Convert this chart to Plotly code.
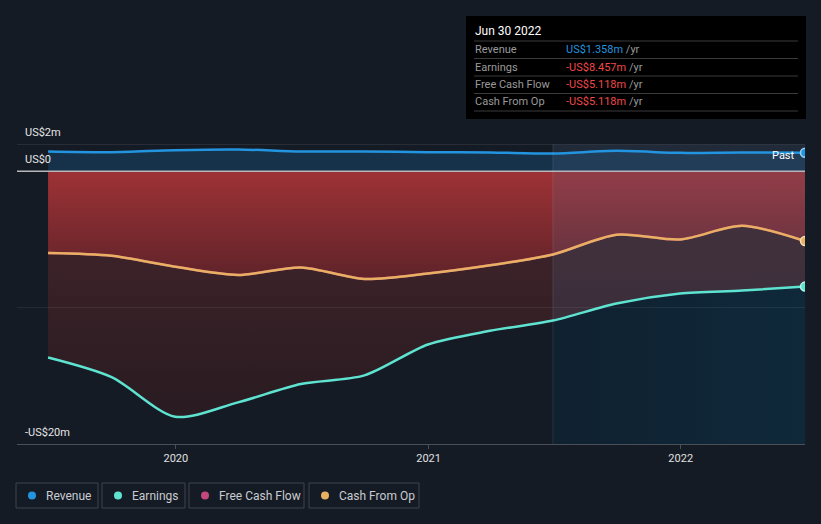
import plotly.graph_objects as go

# ---------------- data ----------------
dates = ["2019-06-30", "2019-09-30", "2019-12-31", "2020-03-31", "2020-06-30",
         "2020-09-30", "2020-12-31", "2021-03-31", "2021-06-30", "2021-09-30",
         "2021-12-31", "2022-03-31", "2022-06-30"]
revenue = [1.45, 1.40, 1.55, 1.60, 1.45, 1.45, 1.40, 1.38, 1.30, 1.50, 1.35, 1.38, 1.358]
earnings = [-13.66, -15.1, -18.0, -16.95, -15.6, -14.97, -12.7, -11.7, -10.95,
            -9.7, -8.97, -8.75, -8.457]
free_cash_flow = [-6.0, -6.2, -7.0, -7.6, -7.05, -7.9, -7.5, -6.9, -6.1,
                  -4.65, -5.0, -4.0, -5.118]
cash_from_op = [-6.0, -6.2, -7.0, -7.6, -7.05, -7.9, -7.5, -6.9, -6.1,
                -4.65, -5.0, -4.0, -5.118]
x_range = ["2019-05-16", "2022-06-30"]
y_range = [-20, 2]
y_ticks = [2, 0, -20]
y_tick_labels = ["US$2m", "US$0", "-US$20m"]
x_ticks = ["2020-01-01", "2021-01-01", "2022-01-01"]
x_tick_labels = ["2020", "2021", "2022"]
series_names = ["Revenue", "Earnings", "Free Cash Flow", "Cash From Op"]
tooltip_date = "Jun 30 2022"
past_start = 8  # index where the "past year" highlight begins

# ---------------- styles ----------------
BG = "#151b25"
C_REV = "#2394df"
C_EARN = "#5fe3d1"
C_FCF = "#c2477f"
C_CFO = "#e8b061"
FONT = "Roboto"

W, H = 821, 524
L, R, T, B = 17, 805, 144, 444


def px(x):
    return (x - L) / (R - L)


def py(y):
    return (B - y) / (B - T)


fig = go.Figure()
SPL = dict(shape="spline", smoothing=0.8)

# revenue area
fig.add_trace(go.Scatter(x=dates, y=revenue, mode="lines", line=dict(width=0, **SPL),
                         fill="tozeroy", fillcolor="rgb(22,50,74)", hoverinfo="skip"))
# earnings area (dark maroon)
fig.add_trace(go.Scatter(x=dates, y=earnings, mode="lines", line=dict(width=0, **SPL),
                         fill="tozeroy",
                         fillgradient=dict(type="vertical", start=-18, stop=0,
                                           colorscale=[[0, "rgb(40,27,33)"], [0.6, "rgb(58,34,40)"],
                                                       [1, "rgb(64,35,41)"]]),
                         hoverinfo="skip"))
# free cash flow / cash from op area (red gradient)
fig.add_trace(go.Scatter(x=dates, y=free_cash_flow, mode="lines", line=dict(width=0, **SPL),
                         fill="tozeroy",
                         fillgradient=dict(type="vertical", start=-7.5, stop=0,
                                           colorscale=[[0, "rgb(98,36,42)"], [1, "rgb(158,50,54)"]]),
                         hoverinfo="skip"))
# teal area below earnings in the past-year region
fig.add_trace(go.Scatter(x=dates[past_start:], y=[y_range[0]] * len(dates[past_start:]),
                         mode="lines", line=dict(width=0), hoverinfo="skip"))
fig.add_trace(go.Scatter(x=dates[past_start:], y=earnings[past_start:], mode="lines",
                         line=dict(width=0, **SPL), fill="tonexty",
                         fillgradient=dict(type="horizontal",
                                           colorscale=[[0, "rgb(2,16,26)"], [1, "rgb(0,26,38)"]]),
                         hoverinfo="skip"))
# past-year highlight overlay
fig.add_trace(go.Scatter(x=[dates[past_start], dates[-1], dates[-1], dates[past_start], dates[past_start]],
                         y=[y_range[0], y_range[0], y_range[1], y_range[1], y_range[0]],
                         mode="lines", line=dict(width=0), fill="toself",
                         fillcolor="rgba(90,120,160,0.17)", hoverinfo="skip"))

# lines
fig.add_trace(go.Scatter(x=dates, y=free_cash_flow, mode="lines", line=dict(color=C_FCF, width=2.5, **SPL),
                         hoverinfo="skip"))
fig.add_trace(go.Scatter(x=dates, y=revenue, mode="lines", line=dict(color=C_REV, width=2.5, **SPL),
                         hoverinfo="skip"))
fig.add_trace(go.Scatter(x=dates, y=earnings, mode="lines", line=dict(color=C_EARN, width=2.5, **SPL),
                         hoverinfo="skip"))
fig.add_trace(go.Scatter(x=dates, y=cash_from_op, mode="lines", line=dict(color=C_CFO, width=2.5, **SPL),
                         hoverinfo="skip"))
# end markers (clipped at the plot edge as in the original)
fig.add_trace(go.Scatter(x=[dates[-1]] * 3, y=[revenue[-1], earnings[-1], cash_from_op[-1]],
                         mode="markers", cliponaxis=True,
                         marker=dict(size=9, color=[C_REV, C_EARN, C_CFO],
                                     line=dict(color=["#9ad0f5", "#b8f4ea", "#f3e0b8"], width=1.5)),
                         hoverinfo="skip"))

shapes = []
# gridlines
shapes.append(dict(type="line", xref="paper", yref="y", x0=0, x1=1, y0=2, y1=2,
                   line=dict(color="#3a3f49", width=1)))
shapes.append(dict(type="line", xref="paper", yref="y", x0=0, x1=1, y0=-10, y1=-10,
                   line=dict(color="rgba(255,255,255,0.08)", width=1)))
shapes.append(dict(type="line", xref="paper", yref="y", x0=0, x1=1, y0=0, y1=0,
                   line=dict(color="#b5b7bb", width=1.5), layer="above"))
shapes.append(dict(type="line", xref="x", yref="paper", x0=dates[past_start], x1=dates[past_start],
                   y0=0, y1=1, line=dict(color="rgba(255,255,255,0.10)", width=1)))

# tooltip box
shapes.append(dict(type="rect", xref="paper", yref="paper", x0=px(466), x1=px(806),
                   y0=py(119), y1=py(16), fillcolor="#000000", line=dict(width=0), layer="above"))
for yy in [41, 58.5, 76, 93.5, 111]:
    shapes.append(dict(type="line", xref="paper", yref="paper", x0=px(474), x1=px(798),
                       y0=py(yy), y1=py(yy), line=dict(color="#3a3a3a", width=1), layer="above"))

annotations = []
annotations.append(dict(x=px(473), y=py(31), xref="paper", yref="paper", text=tooltip_date,
                        showarrow=False, xanchor="left", yanchor="middle",
                        font=dict(color="#ffffff", size=12, family=FONT)))
vals = [revenue[-1], earnings[-1], free_cash_flow[-1], cash_from_op[-1]]
rows_y = [49.5, 67, 84.5, 101.5]
for name, v, yy in zip(series_names, vals, rows_y):
    annotations.append(dict(x=px(473), y=py(yy), xref="paper", yref="paper", text=name,
                            showarrow=False, xanchor="left", yanchor="middle",
                            font=dict(color="#9a9a9a", size=11, family=FONT)))
    if v >= 0:
        txt = f"<span style='color:{C_REV}'>US${v:.3f}m</span> /yr"
    else:
        txt = f"<span style='color:#f04848'>-US${abs(v):.3f}m</span> /yr"
    annotations.append(dict(x=px(564), y=py(yy), xref="paper", yref="paper", text=txt,
                            showarrow=False, xanchor="left", yanchor="middle",
                            font=dict(color="#9a9a9a", size=11, family=FONT)))

# y-axis labels (inside plot, above lines)
for v, lab in zip(y_ticks, y_tick_labels):
    annotations.append(dict(x=px(23), y=v, xref="paper", yref="y", text=lab, showarrow=False,
                            xanchor="left", yanchor="bottom", yshift=3,
                            font=dict(color="#e6e6e6", size=11, family=FONT)))
# Past label
annotations.append(dict(x=px(797), y=revenue[-1], xref="paper", yref="y", text="Past",
                        showarrow=False, xanchor="right", yanchor="middle", yshift=-3,
                        font=dict(color="#ffffff", size=11, family=FONT)))

# legend boxes
leg = [(16, 98, 32, 44), (102, 185, 118, 130), (189, 304, 205, 217), (309, 419, 325, 337)]
colors = [C_REV, C_EARN, C_FCF, C_CFO]
for (x0, x1, dx, tx), name, c in zip(leg, series_names, colors):
    shapes.append(dict(type="rect", xref="paper", yref="paper", x0=px(x0), x1=px(x1),
                       y0=py(508), y1=py(483), line=dict(color="#3e434d", width=1),
                       fillcolor="rgba(0,0,0,0)"))
    shapes.append(dict(type="circle", xref="paper", yref="paper", x0=px(dx - 4), x1=px(dx + 4),
                       y0=py(499.5), y1=py(491.5), fillcolor=c, line=dict(width=0)))
    annotations.append(dict(x=px(tx), y=py(495.5), xref="paper", yref="paper", text=name,
                            showarrow=False, xanchor="left", yanchor="middle",
                            font=dict(color="#c9cbcf", size=12, family=FONT)))

fig.update_layout(
    width=W, height=H,
    margin=dict(l=L, r=W - R, t=T, b=H - B),
    paper_bgcolor=BG, plot_bgcolor=BG,
    showlegend=False,
    shapes=shapes, annotations=annotations,
    font=dict(family=FONT, color="#e0e0e0"),
    xaxis=dict(type="date", range=x_range, showgrid=False, zeroline=False,
               tickvals=x_ticks, ticktext=x_tick_labels, ticks="outside", ticklen=4,
               tickcolor="#4a4f58", showline=True, linecolor="#4a4f58", linewidth=1,
               tickfont=dict(color="#e0e0e0", size=11, family=FONT), fixedrange=True),
    yaxis=dict(range=y_range, showgrid=False, zeroline=False, showticklabels=False,
               showline=False, fixedrange=True),
)

fig.write_html("out.html", config={"displayModeBar": False},
               post_script="document.body.style.margin='0';document.body.style.background='%s';" % BG)
